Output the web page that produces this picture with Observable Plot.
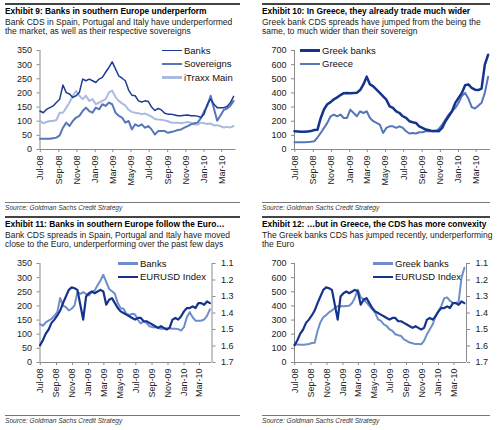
<!DOCTYPE html>
<html>
<head>
<meta charset="utf-8">
<script src="https://cdn.jsdelivr.net/npm/d3@7"></script>
<script src="https://cdn.jsdelivr.net/npm/@observablehq/plot@0.6"></script>
<style>
  html, body { margin: 0; padding: 0; background: #fff; }
  #page { position: relative; width: 500px; height: 430px; overflow: hidden; background: #fff;
          font-family: "Liberation Sans", Arial, sans-serif; color: #111; }
  .abs { position: absolute; white-space: nowrap; }
  .title { font-weight: bold; font-size: 8.4px; line-height: 9px; color: #000; }
  .sub { font-size: 8.5px; line-height: 8.8px; color: #1a1a1a; }
  .src { font-style: italic; font-size: 6.6px; line-height: 7px; color: #333; }
  .ruleTop { height: 1.5px; background: #444; }
  .ruleBot { height: 1px; background: #777; }
  .leg { display: flex; align-items: center; font-size: 9.5px; line-height: 10px; height: 10px; color: #111; }
  .sw { display: inline-block; width: 20px; margin-right: 2px; }
  .chart { position: absolute; }
</style>
</head>
<body>
<div id="page"></div>
<script>
// ---------- data (11-day sampling from 30 Jun 2008) ----------
const banks = [136,130,142,148,154,166,178,228,201,196,184,190,202,249,243,249,243,237,249,255,273,290,310,285,260,252,243,210,192,190,172,168,172,170,150,138,145,140,128,125,125,122,119,119,121,122,119,119,118,113,125,160,178,160,148,148,148,152,165,188];
const sovereigns = [38,38,38,38,40,42,50,77,95,83,101,113,119,136,148,136,130,148,142,160,154,166,160,130,119,113,95,101,71,89,83,89,77,83,71,53,65,65,65,59,62,65,69,71,77,83,89,93,95,110,135,155,190,145,102,120,140,145,155,172];
const itraxx = [101,93,97,101,101,104,130,130,148,166,190,207,190,178,190,172,178,160,166,172,178,202,208,185,172,163,155,140,133,130,128,125,127,122,116,108,106,105,103,100,95,95,95,93,95,97,95,88,88,95,93,90,92,85,86,82,78,80,78,83];
const greekBanks = [129,127,125,126,128,130,138,140,223,285,320,335,355,368,385,398,400,398,400,402,420,460,515,460,446,423,400,376,352,305,294,270,258,235,223,200,193,188,164,153,141,136,130,130,129,153,200,235,270,330,365,400,455,460,435,423,420,430,600,670];
const greece = [52,52,52,52,53,55,58,85,117,153,188,235,247,235,247,223,223,282,258,235,270,258,270,223,200,188,176,117,153,164,164,153,164,153,129,113,117,113,122,122,129,129,129,129,146,176,211,247,270,294,330,380,400,360,300,290,310,330,400,515];
const eurusd = [1.596,1.565,1.525,1.50,1.46,1.44,1.415,1.385,1.34,1.30,1.26,1.245,1.25,1.26,1.35,1.44,1.30,1.28,1.27,1.28,1.27,1.26,1.27,1.35,1.32,1.31,1.34,1.37,1.39,1.40,1.41,1.42,1.43,1.44,1.43,1.43,1.45,1.45,1.46,1.47,1.48,1.49,1.48,1.49,1.50,1.49,1.44,1.43,1.44,1.42,1.39,1.37,1.37,1.36,1.37,1.34,1.34,1.35,1.33,1.34];

const xTicks = ["2008-07-01","2008-09-01","2008-11-01","2009-01-01","2009-03-01","2009-05-01","2009-07-01","2009-09-01","2009-11-01","2010-01-01","2010-03-01"];
const ticks350 = [0,50,100,150,200,250,300,350];
const ticks700 = [0,100,200,300,400,500,600,700];
const eurTicks = [1.1,1.2,1.3,1.4,1.5,1.6,1.7];

const titles = [
  "Exhibit 9: Banks in southern Europe underperform",
  "Exhibit 10: In Greece, they already trade much wider",
  "Exhibit 11: Banks in southern Europe follow the Euro\u2026",
  "Exhibit 12: \u2026but in Greece, the CDS has more convexity"
];
const subtitles = [
  ["Bank CDS in Spain, Portugal and Italy have underperformed", "the market, as well as their respective sovereigns"],
  ["Greek bank CDS spreads have jumped from the being the", "same, to much wider than their sovereign"],
  ["Bank CDS spreads in Spain, Portugal and Italy have moved", "close to the Euro, underperforming over the past few days"],
  ["The Greek banks CDS has jumped recently, underperforming", "the Euro"]
];
const sourceText = "Source: Goldman Sachs Credit Strategy";

// ---------- helpers ----------
const start = new Date(Date.UTC(2008, 5, 30));
const dates = banks.map((_, i) => d3.utcDay.offset(start, 11 * i));
const xDomain = [start, new Date(Date.UTC(2010, 3, 18))];
const table = arr => arr.map((v, i) => ({date: dates[i], v}));
const fmt = d3.utcFormat("%b-%y");

const C = {
  navy: "#15338c", navy2: "#1b3d93", mid: "#5676b9", light: "#a9bbdf", bankLt: "#6e8dcb"
};

const page = document.getElementById("page");
function add(cls, css, html) {
  const d = document.createElement("div");
  d.className = "abs " + cls;
  Object.assign(d.style, css);
  if (html != null) d.innerHTML = html;
  page.appendChild(d);
  return d;
}

function panelText(k, x0, y0, x1) {
  add("ruleTop", {left: x0 + "px", top: (y0 + 3.3) + "px", width: (x1 - x0) + "px"});
  add("title", {left: x0 + "px", top: (y0 + 7.3) + "px"}, titles[k]);
  add("sub", {left: x0 + "px", top: (y0 + 18.4) + "px"}, subtitles[k].join("<br>"));
  add("ruleBot", {left: x0 + "px", top: (y0 + 202) + "px", width: (x1 - x0) + "px"});
  add("src", {left: x0 + "px", top: (y0 + 204.2) + "px"}, sourceText);
}

function legend(x, ys, items) {
  items.forEach((it, i) => {
    add("leg", {left: x + "px", top: (ys[i] - 5) + "px"},
      `<span class="sw" style="height:${it.h}px;background:${it.color}"></span>${it.label}`);
  });
}

function chart({left, top, ml, mr, yMax, yTicks, lines, right}) {
  const w = 245, h = 150, mt = 10, mb = 41;
  const marks = [
    Plot.ruleX([xDomain[0]], {stroke: "#8a8a8a"}),
    Plot.ruleY([0], {stroke: "#8a8a8a"}),
    Plot.axisY({ticks: yTicks, tickSize: 3, tickPadding: 5, label: null, stroke: "#8a8a8a", fill: "#222"}),
    Plot.axisX({ticks: xTicks.map(s => new Date(s)), tickFormat: fmt, tickRotate: -90,
                tickSize: 3, tickPadding: 3, label: null, stroke: "#8a8a8a", fill: "#222"})
  ];
  if (right) {
    const toLeft = d3.scaleLinear([1.7, 1.1], [0, yMax]);
    marks.push(
      Plot.ruleX([xDomain[1]], {stroke: "#8a8a8a"}),
      Plot.axisY({anchor: "right", ticks: eurTicks.map(toLeft), tickFormat: d => toLeft.invert(d).toFixed(1),
                  tickSize: 3, tickPadding: 6, label: null, stroke: "#8a8a8a", fill: "#222"})
    );
    lines = lines.map(l => l.eur ? {...l, data: l.data.map(d => ({date: d.date, v: toLeft(d.v)}))} : l);
  }
  for (const l of lines) {
    marks.push(Plot.line(l.data, {x: "date", y: "v", stroke: l.color, strokeWidth: l.width}));
  }
  const svg = Plot.plot({
    width: w, height: h, marginLeft: ml, marginRight: mr, marginTop: mt, marginBottom: mb,
    x: {type: "utc", domain: xDomain},
    y: {domain: [0, yMax]},
    style: {fontFamily: '"Liberation Sans", Arial, sans-serif', fontSize: "9px", color: "#222",
            background: "transparent", overflow: "visible"},
    marks
  });
  svg.classList.add("chart");
  svg.style.left = left + "px";
  svg.style.top = top + "px";
  page.appendChild(svg);
}

// ---------- panels ----------
const OY = 213;
panelText(0, 5, 0, 240);
panelText(1, 262, 0, 490);
panelText(2, 5, OY, 240);
panelText(3, 262, OY, 490);

chart({left: 0, top: 40, ml: 39.5, mr: 9.5, yMax: 350, yTicks: ticks350, lines: [
  {data: table(itraxx), color: C.light, width: 2},
  {data: table(sovereigns), color: C.mid, width: 2},
  {data: table(banks), color: C.navy2, width: 1.5}
]});
chart({left: 255, top: 40, ml: 39, mr: 10, yMax: 700, yTicks: ticks700, lines: [
  {data: table(greece), color: C.mid, width: 2},
  {data: table(greekBanks), color: C.navy, width: 2.5}
]});
chart({left: 0, top: 40 + OY, ml: 39.5, mr: 33.5, yMax: 350, yTicks: ticks350, right: true, lines: [
  {data: table(banks), color: C.bankLt, width: 2},
  {data: table(eurusd), color: C.navy, width: 2.2, eur: true}
]});
chart({left: 255, top: 40 + OY, ml: 39, mr: 34, yMax: 700, yTicks: ticks700, right: true, lines: [
  {data: table(greekBanks), color: C.bankLt, width: 2},
  {data: table(eurusd), color: C.navy, width: 2.2, eur: true}
]});

legend(162, [50.5, 64, 77.5], [
  {label: "Banks", color: C.navy2, h: 1.8},
  {label: "Sovereigns", color: C.mid, h: 2.5},
  {label: "iTraxx Main", color: C.light, h: 2.5}
]);
legend(300, [50.5, 64], [
  {label: "Greek banks", color: C.navy, h: 2.8},
  {label: "Greece", color: C.mid, h: 2.5}
]);
legend(118, [50.5 + OY, 64 + OY], [
  {label: "Banks", color: C.bankLt, h: 2.5},
  {label: "EURUSD Index", color: C.navy, h: 2.8}
]);
legend(373, [50.5 + OY, 64 + OY], [
  {label: "Greek banks", color: C.bankLt, h: 2.5},
  {label: "EURUSD Index", color: C.navy, h: 2.8}
]);
</script>
</body>
</html>
